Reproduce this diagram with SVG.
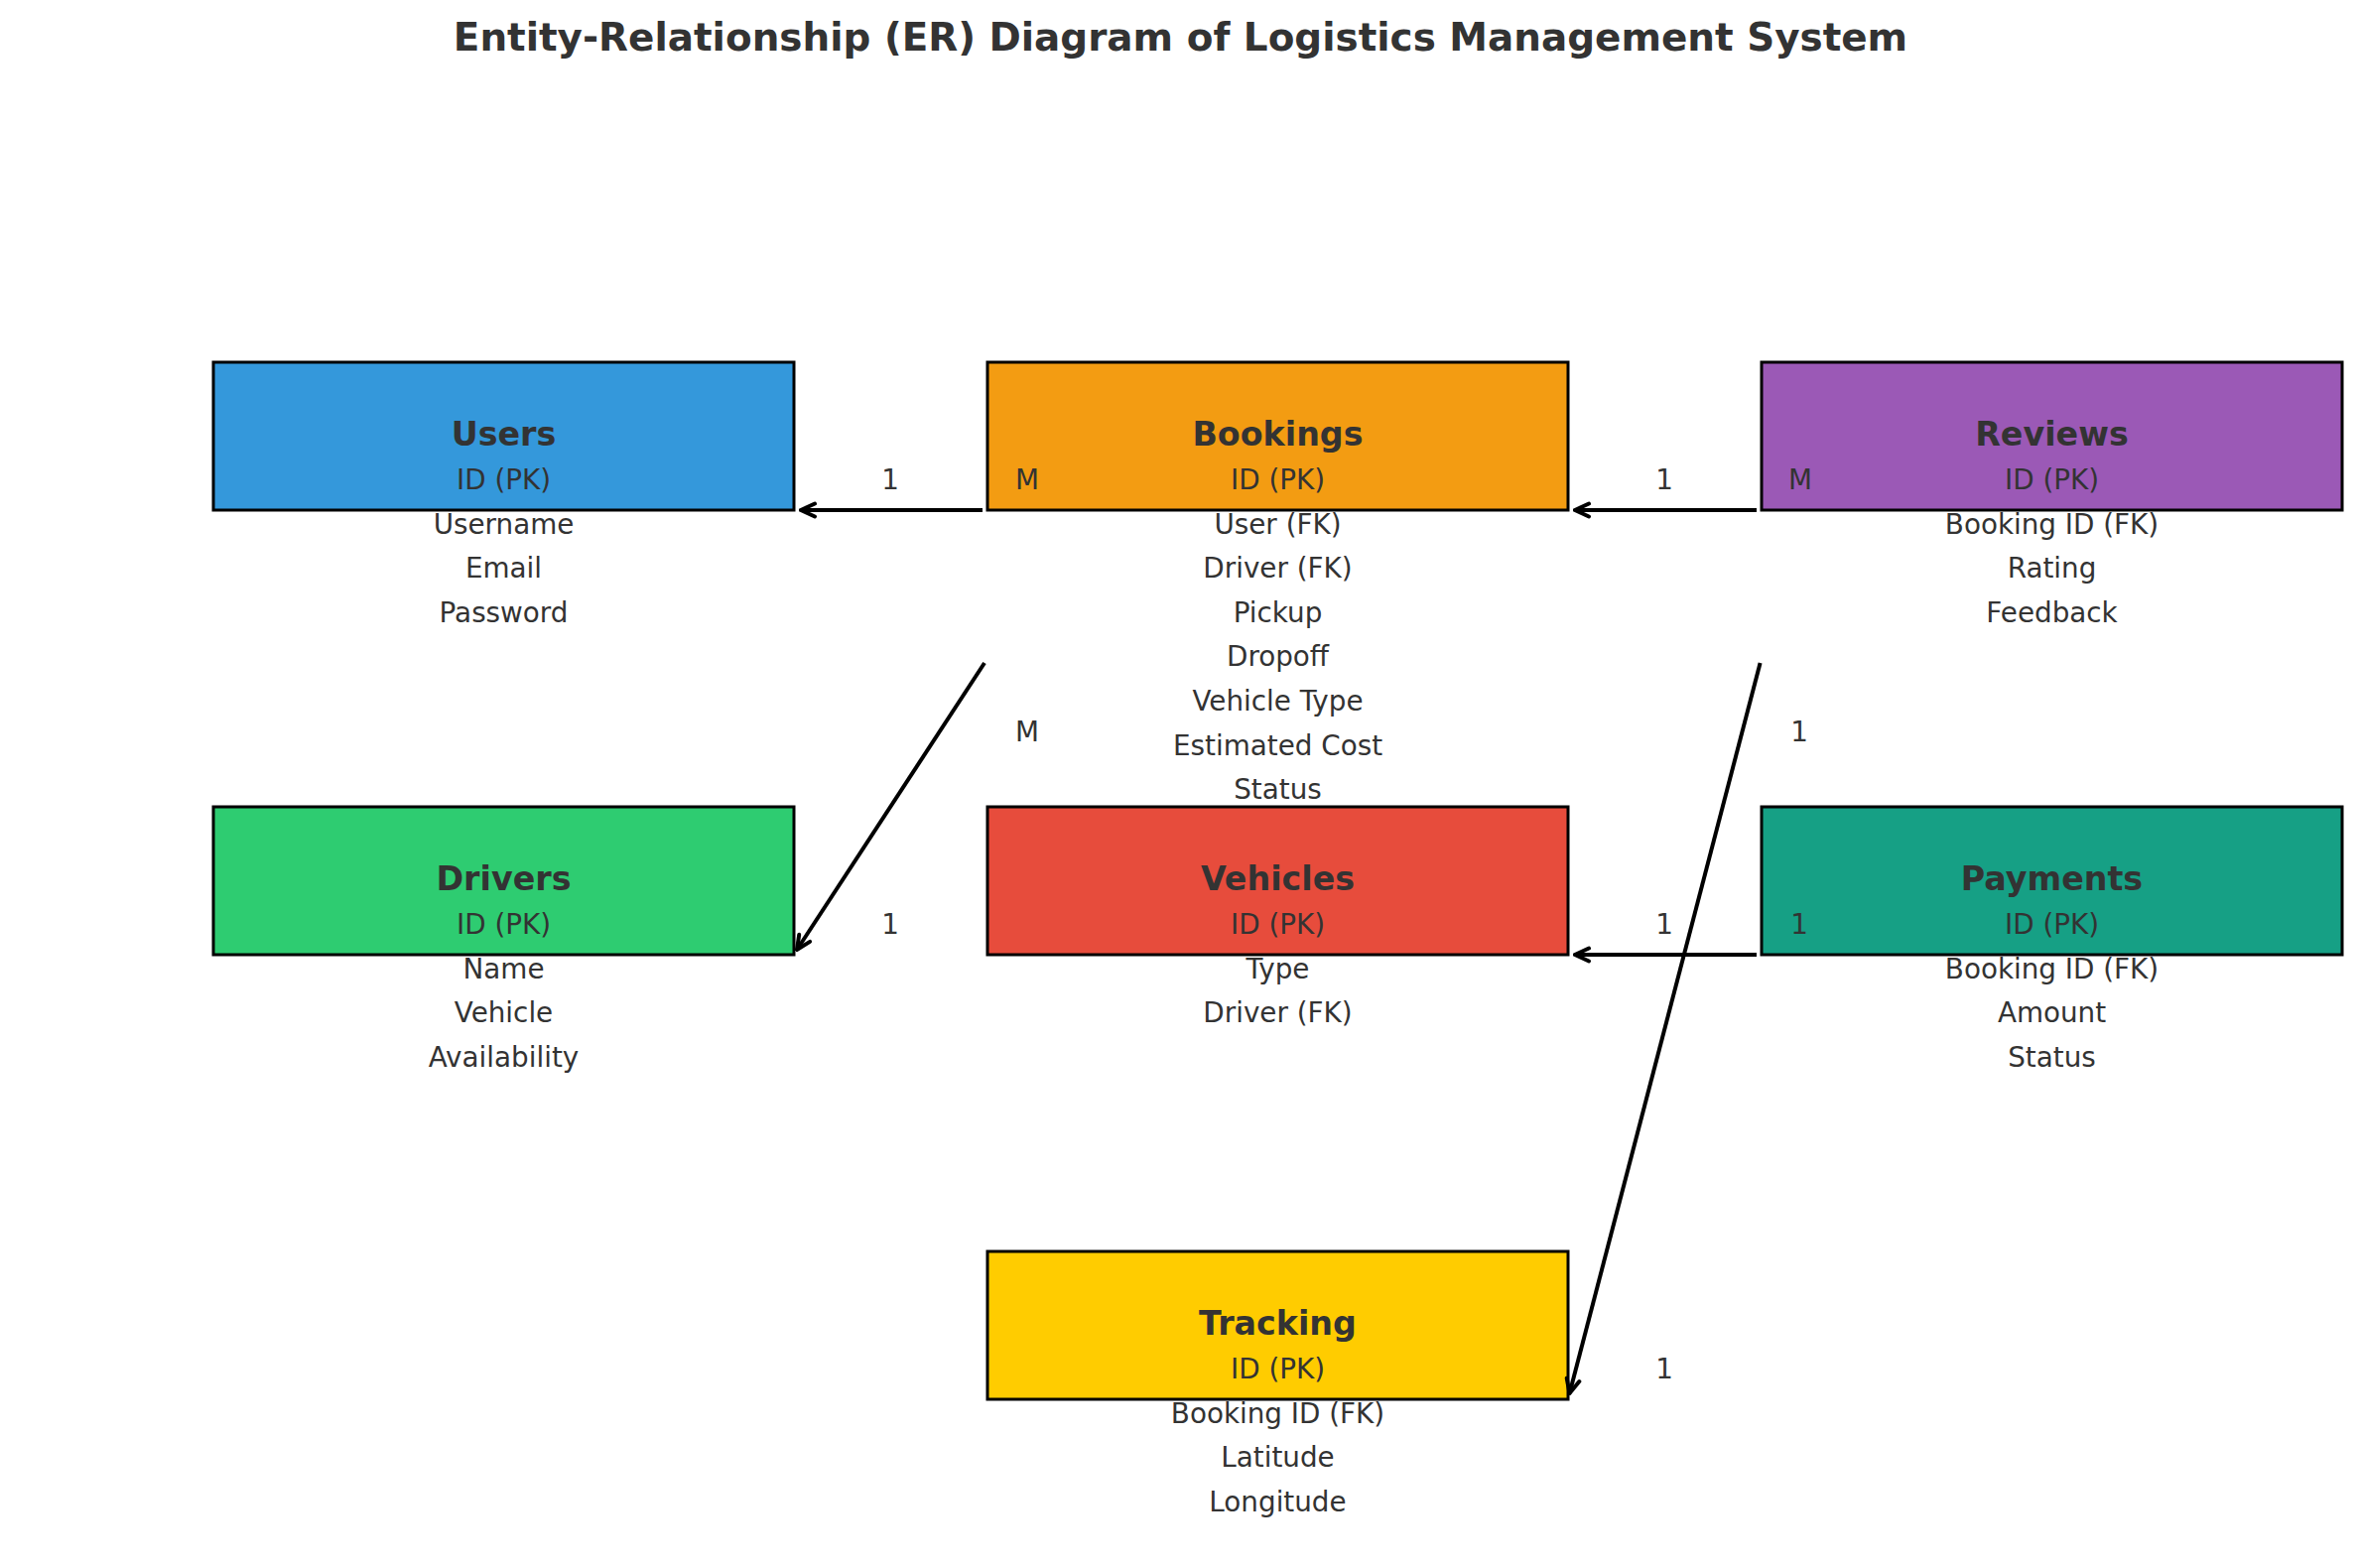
<svg xmlns="http://www.w3.org/2000/svg" width="2379" height="1580" viewBox="0 0 2379 1580">
<style>
.box{stroke:#000;stroke-width:3}
.ttl{font-family:"DejaVu Sans",sans-serif;font-weight:bold;font-size:33.3px;fill:#333;text-anchor:middle}
.att{font-family:"DejaVu Sans",sans-serif;font-size:27.8px;fill:#333;text-anchor:middle}
.lbl{font-family:"DejaVu Sans",sans-serif;font-size:27.8px;fill:#333;text-anchor:middle}
.con{stroke:#000;stroke-width:4;fill:none;marker-end:url(#ah)}
</style>
<defs>
<marker id="ah" markerUnits="userSpaceOnUse" viewBox="-18 -10 20 20" refX="0" refY="0" markerWidth="20" markerHeight="20" orient="auto">
<path d="M-14,-6.5 L0,0 L-14,6.5" fill="none" stroke="#000" stroke-width="4" stroke-linecap="round" stroke-linejoin="miter"/>
</marker>
</defs>
<rect width="2379" height="1580" fill="#fff"/>
<text x="1189.5" y="51" style="font-family:'DejaVu Sans',sans-serif;font-weight:bold;font-size:38.9px;fill:#333;text-anchor:middle">Entity-Relationship (ER) Diagram of Logistics Management System</text>

<g id="users">
<rect class="box" x="215" y="365" width="585" height="149" fill="#3498db"/>
<text class="ttl" x="507.5" y="449">Users</text>
<text class="att" x="507.5" y="493">ID (PK)</text>
<text class="att" x="507.5" y="537.6">Username</text>
<text class="att" x="507.5" y="582.2">Email</text>
<text class="att" x="507.5" y="626.8">Password</text>
</g>
<g id="bookings">
<rect class="box" x="995" y="365" width="585" height="149" fill="#f39c12"/>
<text class="ttl" x="1287.5" y="449">Bookings</text>
<text class="att" x="1287.5" y="493">ID (PK)</text>
<text class="att" x="1287.5" y="537.6">User (FK)</text>
<text class="att" x="1287.5" y="582.2">Driver (FK)</text>
<text class="att" x="1287.5" y="626.8">Pickup</text>
<text class="att" x="1287.5" y="671.4">Dropoff</text>
<text class="att" x="1287.5" y="716">Vehicle Type</text>
<text class="att" x="1287.5" y="760.6">Estimated Cost</text>
<text class="att" x="1287.5" y="805.2">Status</text>
</g>
<g id="reviews">
<rect class="box" x="1775" y="365" width="585" height="149" fill="#9b59b6"/>
<text class="ttl" x="2067.5" y="449">Reviews</text>
<text class="att" x="2067.5" y="493">ID (PK)</text>
<text class="att" x="2067.5" y="537.6">Booking ID (FK)</text>
<text class="att" x="2067.5" y="582.2">Rating</text>
<text class="att" x="2067.5" y="626.8">Feedback</text>
</g>
<g id="drivers">
<rect class="box" x="215" y="813" width="585" height="149" fill="#2ecc71"/>
<text class="ttl" x="507.5" y="897">Drivers</text>
<text class="att" x="507.5" y="941">ID (PK)</text>
<text class="att" x="507.5" y="985.6">Name</text>
<text class="att" x="507.5" y="1030.2">Vehicle</text>
<text class="att" x="507.5" y="1074.8">Availability</text>
</g>
<g id="vehicles">
<rect class="box" x="995" y="813" width="585" height="149" fill="#e74c3c"/>
<text class="ttl" x="1287.5" y="897">Vehicles</text>
<text class="att" x="1287.5" y="941">ID (PK)</text>
<text class="att" x="1287.5" y="985.6">Type</text>
<text class="att" x="1287.5" y="1030.2">Driver (FK)</text>
</g>
<g id="payments">
<rect class="box" x="1775" y="813" width="585" height="149" fill="#16a085"/>
<text class="ttl" x="2067.5" y="897">Payments</text>
<text class="att" x="2067.5" y="941">ID (PK)</text>
<text class="att" x="2067.5" y="985.6">Booking ID (FK)</text>
<text class="att" x="2067.5" y="1030.2">Amount</text>
<text class="att" x="2067.5" y="1074.8">Status</text>
</g>
<g id="tracking">
<rect class="box" x="995" y="1261" width="585" height="149" fill="#ffcc00"/>
<text class="ttl" x="1287.5" y="1345">Tracking</text>
<text class="att" x="1287.5" y="1389">ID (PK)</text>
<text class="att" x="1287.5" y="1433.6">Booking ID (FK)</text>
<text class="att" x="1287.5" y="1478.2">Latitude</text>
<text class="att" x="1287.5" y="1522.8">Longitude</text>
</g>

<g id="connectors">
<line class="con" x1="990" y1="514" x2="807" y2="514"/>
<line class="con" x1="1770" y1="514" x2="1587" y2="514"/>
<line class="con" x1="992" y1="668" x2="803" y2="957"/>
<line class="con" x1="1773.6" y1="668" x2="1581.5" y2="1404"/>
<line class="con" x1="1770" y1="962" x2="1587" y2="962"/>
<text class="lbl" x="897" y="493">1</text>
<text class="lbl" x="1035" y="493">M</text>
<text class="lbl" x="1677" y="493">1</text>
<text class="lbl" x="1814" y="493">M</text>
<text class="lbl" x="1035" y="747">M</text>
<text class="lbl" x="897" y="941">1</text>
<text class="lbl" x="1813" y="747">1</text>
<text class="lbl" x="1677" y="1389">1</text>
<text class="lbl" x="1677" y="941">1</text>
<text class="lbl" x="1813" y="941">1</text>
</g>
</svg>
